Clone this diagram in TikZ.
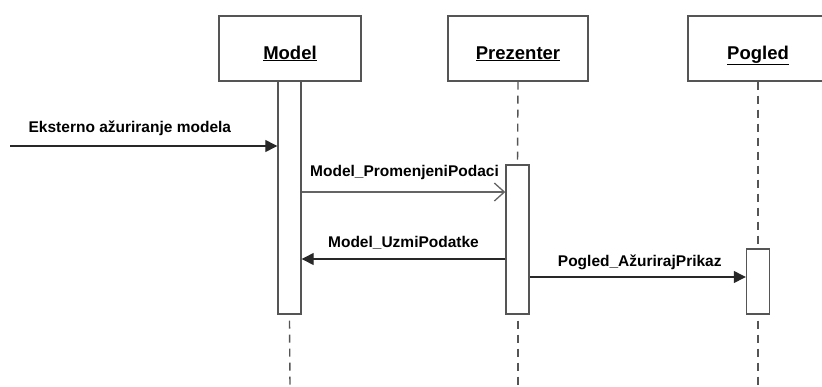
\documentclass[tikz,border=0pt]{standalone}
\usepackage{fontspec}
\setmainfont{Liberation Sans}
\usetikzlibrary{arrows.meta, positioning}
\definecolor{boxgray}{RGB}{85,85,85}
\definecolor{linegray}{RGB}{100,100,100}
\definecolor{msgblack}{RGB}{40,40,40}

\begin{document}
\begin{tikzpicture}[x=1pt, y=-1pt,
  obj/.style={draw=boxgray, line width=1.4pt, fill=white, minimum width=142pt, minimum height=65pt, text height=26pt, text depth=5pt, font=\fontsize{18.5}{22}\selectfont\bfseries},
  act/.style={draw=boxgray, line width=1.4pt, fill=white, minimum width=23pt, inner sep=0pt},
  life/.style={draw=boxgray, line width=1.4pt, dash pattern=on 8pt off 6pt},
  msg/.style={draw=msgblack, line width=1.3pt, -{Triangle[length=12pt, width=12pt]}},
  amsg/.style={draw=linegray, line width=1.3pt, -{Straight Barb[length=10pt, width=18pt, line width=1.3pt]}},
  lbl/.style={font=\fontsize{15.5}{18}\selectfont\bfseries, inner sep=0pt, anchor=base}]
  \useasboundingbox (0,0) rectangle (822,386);
  \clip (0,0) rectangle (822,386);

  % objects
  \node[obj] (model) at (290,48.5) {\underline{Model}};
  \node[obj, minimum width=140pt] (prez) at (518,48.5) {\underline{Prezenter}};
  \node[obj, minimum width=140pt] (pog) at (758,48.5) {\underline{Pogled}};

  % activations
  \node[act, minimum height=233pt] (mAct) at (289.5,197.5) {};
  \node[act, minimum height=149pt] (pAct) at (517.5,239.5) {};
  \node[act, minimum height=65pt] (gAct) at (758,281.5) {};

  % lifelines
  \coordinate (mEnd) at (290,386);
  \coordinate (pEnd) at (518,386);
  \coordinate (gEnd) at (758,386);
  \draw[life] (prez.south) -- (pAct.north);
  \draw[life] (pog.south) -- (gAct.north);
  \draw[life] ([yshift=-6pt]mAct.south) -- (mEnd);
  \draw[life] ([yshift=-6pt]pAct.south -| pEnd) -- (pEnd);
  \draw[life] ([yshift=-6pt]gAct.south) -- (gEnd);

  % messages
  \coordinate (ext) at (10,146);
  \coordinate (m1) at (0,192);
  \coordinate (m2) at (0,259);
  \coordinate (m3) at (0,277);
  \draw[msg] (ext) -- (ext -| mAct.west)
    node[lbl, pos=0, anchor=base west, xshift=18pt, yshift=14pt] {Eksterno ažuriranje modela};
  \draw[amsg] (mAct.east |- m1) -- (pAct.west |- m1)
    node[lbl, midway, xshift=1pt, yshift=16pt] {Model\_PromenjeniPodaci};
  \draw[msg] (pAct.west |- m2) -- (mAct.east |- m2)
    node[lbl, midway, yshift=12pt] {Model\_UzmiPodatke};
  \draw[msg] (pAct.east |- m3) -- (gAct.west |- m3)
    node[lbl, midway, xshift=2pt, yshift=11pt] {Pogled\_AžurirajPrikaz};
\end{tikzpicture}
\end{document}
